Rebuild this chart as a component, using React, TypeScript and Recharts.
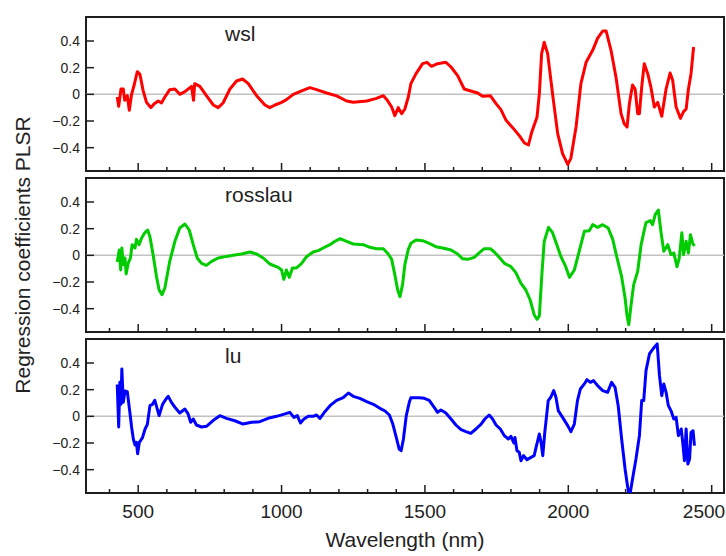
import { LineChart, Line, XAxis, YAxis, ReferenceLine, ReferenceArea } from 'recharts'

// [wavelength (nm), coefficient]
const WSL: [number, number][] = [
  [427, -0.02], [432, -0.09], [440, 0.04], [448, 0.04], [453, -0.045], [462, -0.01], [469, -0.12], [477, 0],
  [486, 0.07], [497, 0.17], [506, 0.15], [517, 0.03], [529, -0.06], [544, -0.1], [556, -0.07], [570, -0.05],
  [581, -0.065], [593, -0.02], [610, 0.035], [628, 0.04], [645, 0], [663, 0.02], [686, 0.06], [693, -0.045],
  [697, 0.08], [715, 0.06], [738, -0.01], [762, -0.08], [779, -0.1], [796, -0.065], [820, 0.04], [843, 0.1],
  [864, 0.115], [884, 0.08], [913, -0.01], [942, -0.08], [959, -0.1], [977, -0.08], [1000, -0.06], [1017, -0.04],
  [1041, 0], [1064, 0.02], [1081, 0.035], [1099, 0.05], [1122, 0.035], [1157, 0.01], [1192, -0.012], [1227, -0.05],
  [1250, -0.06], [1297, -0.05], [1331, -0.03], [1355, -0.01], [1369, -0.045], [1384, -0.095], [1395, -0.16],
  [1407, -0.1], [1419, -0.145], [1430, -0.11], [1442, -0.02], [1451, 0.08], [1469, 0.155], [1492, 0.23],
  [1507, 0.24], [1523, 0.21], [1544, 0.23], [1573, 0.24], [1591, 0.205], [1614, 0.14], [1637, 0.04], [1660, 0.025],
  [1684, 0.01], [1701, -0.015], [1728, -0.01], [1748, -0.07], [1765, -0.115], [1783, -0.195], [1806, -0.25],
  [1829, -0.31], [1847, -0.365], [1861, -0.38], [1873, -0.28], [1891, -0.17], [1899, 0.005], [1907, 0.305],
  [1916, 0.39], [1928, 0.305], [1945, 0.005], [1963, -0.295], [1980, -0.445], [1998, -0.525], [2009, -0.48],
  [2027, -0.245], [2044, 0.08], [2062, 0.24], [2085, 0.33], [2102, 0.42], [2120, 0.475], [2132, 0.475],
  [2149, 0.33], [2167, 0.12], [2184, -0.145], [2195, -0.22], [2205, -0.245], [2213, -0.07], [2224, 0.07],
  [2233, 0.04], [2242, -0.145], [2248, -0.145], [2256, 0.055], [2265, 0.23], [2277, 0.155], [2288, 0.055],
  [2300, -0.095], [2312, -0.06], [2326, -0.165], [2341, 0.04], [2355, 0.16], [2364, 0.105], [2376, -0.095],
  [2391, -0.18], [2402, -0.13], [2411, -0.11], [2419, 0.04], [2428, 0.155], [2437, 0.355],
]

const ROSSLAU: [number, number][] = [
  [427, -0.05], [434, 0.04], [439, -0.11], [443, 0.055], [448, -0.07], [454, -0.02], [458, -0.14], [465, -0.06],
  [473, -0.02], [479, 0.08], [489, 0.055], [494, 0.12], [503, 0.08], [512, 0.13], [523, 0.17], [533, 0.19],
  [541, 0.14], [552, 0.005], [564, -0.16], [573, -0.26], [583, -0.295], [593, -0.245], [610, -0.045], [628, 0.105],
  [645, 0.205], [663, 0.235], [678, 0.19], [692, 0.08], [706, -0.02], [721, -0.06], [738, -0.075], [756, -0.045],
  [779, -0.02], [808, -0.008], [831, 0], [860, 0.01], [890, 0.025], [913, 0.01], [936, -0.02], [959, -0.065],
  [988, -0.09], [1000, -0.11], [1008, -0.18], [1017, -0.11], [1027, -0.165], [1038, -0.095], [1052, -0.095],
  [1070, -0.06], [1087, -0.01], [1110, 0.025], [1128, 0.035], [1145, 0.055], [1169, 0.08], [1186, 0.105],
  [1204, 0.125], [1227, 0.105], [1250, 0.085], [1285, 0.08], [1308, 0.06], [1331, 0.05], [1355, 0.05],
  [1372, 0.01], [1384, -0.03], [1395, -0.145], [1405, -0.26], [1413, -0.31], [1422, -0.22], [1430, -0.07],
  [1442, 0.045], [1451, 0.09], [1469, 0.115], [1492, 0.11], [1515, 0.09], [1538, 0.065], [1562, 0.055],
  [1591, 0.04], [1614, 0.01], [1631, -0.025], [1649, -0.03], [1672, -0.015], [1690, 0.02], [1707, 0.05],
  [1728, 0.05], [1742, 0.025], [1759, -0.015], [1777, -0.06], [1800, -0.085], [1817, -0.13], [1835, -0.21],
  [1852, -0.26], [1867, -0.335], [1881, -0.445], [1891, -0.48], [1899, -0.455], [1907, -0.17], [1916, 0.105],
  [1931, 0.21], [1945, 0.17], [1960, 0.08], [1974, -0.008], [1991, -0.085], [2004, -0.165], [2021, -0.11],
  [2032, -0.02], [2044, 0.08], [2056, 0.18], [2073, 0.185], [2085, 0.23], [2102, 0.21], [2120, 0.23],
  [2139, 0.205], [2155, 0.12], [2170, -0.02], [2186, -0.16], [2198, -0.32], [2205, -0.455], [2211, -0.52],
  [2219, -0.37], [2228, -0.22], [2242, -0.12], [2254, 0.08], [2263, 0.17], [2271, 0.245], [2286, 0.26],
  [2294, 0.23], [2303, 0.305], [2314, 0.34], [2323, 0.18], [2333, 0.03], [2347, 0.08], [2358, 0.005],
  [2368, 0.018], [2379, -0.085], [2387, -0.02], [2396, 0.17], [2402, 0.005], [2411, 0.105], [2419, 0.018],
  [2426, 0.155], [2434, 0.09], [2440, 0.07],
]

const LU: [number, number][] = [
  [427, 0.24], [432, -0.08], [436, 0.255], [440, 0.09], [443, 0.355], [448, 0.105], [454, 0.19], [462, 0.185],
  [471, 0.03], [477, -0.08], [483, -0.17], [489, -0.215], [494, -0.195], [498, -0.28], [504, -0.195], [515, -0.16],
  [524, -0.095], [532, -0.06], [541, 0.08], [550, 0.09], [558, 0.12], [573, 0.005], [585, 0.09], [597, 0.13],
  [605, 0.15], [616, 0.105], [631, 0.06], [645, 0.025], [663, 0.055], [674, 0.018], [683, -0.045], [692, -0.02],
  [703, -0.065], [721, -0.08], [738, -0.075], [762, -0.03], [785, 0.005], [808, -0.015], [837, -0.033],
  [866, -0.058], [895, -0.045], [924, -0.04], [953, -0.015], [983, 0], [1012, 0.018], [1029, 0.03], [1043, -0.008],
  [1055, 0.005], [1066, -0.05], [1078, -0.02], [1093, 0], [1110, 0], [1122, 0.01], [1134, -0.015], [1151, 0.035],
  [1169, 0.08], [1192, 0.12], [1215, 0.14], [1233, 0.175], [1250, 0.15], [1273, 0.135], [1297, 0.11],
  [1320, 0.09], [1343, 0.06], [1361, 0.04], [1376, 0.01], [1388, -0.058], [1400, -0.158], [1410, -0.245],
  [1417, -0.258], [1425, -0.17], [1435, 0.005], [1446, 0.11], [1451, 0.14], [1463, 0.14], [1480, 0.14],
  [1498, 0.135], [1515, 0.12], [1533, 0.065], [1544, 0.03], [1556, 0.048], [1573, 0.025], [1591, -0.02],
  [1608, -0.065], [1626, -0.1], [1643, -0.115], [1660, -0.128], [1678, -0.095], [1696, -0.058], [1709, -0.02],
  [1724, 0.01], [1736, -0.02], [1748, -0.065], [1763, -0.095], [1777, -0.145], [1791, -0.17], [1800, -0.15],
  [1810, -0.2], [1814, -0.158], [1821, -0.258], [1829, -0.27], [1835, -0.333], [1844, -0.295], [1856, -0.325],
  [1870, -0.308], [1881, -0.295], [1889, -0.22], [1899, -0.133], [1905, -0.195], [1911, -0.295], [1918, -0.12],
  [1930, 0.118], [1939, 0.143], [1949, 0.193], [1957, 0.143], [1965, 0.043], [1980, -0.008], [1998, -0.07],
  [2009, -0.115], [2021, -0.058], [2032, 0.118], [2042, 0.205], [2056, 0.243], [2065, 0.275], [2077, 0.255],
  [2088, 0.268], [2102, 0.23], [2120, 0.193], [2137, 0.18], [2151, 0.255], [2163, 0.218], [2174, 0.08],
  [2186, -0.17], [2198, -0.395], [2207, -0.53], [2214, -0.6], [2224, -0.47], [2236, -0.32], [2248, -0.145],
  [2256, 0.118], [2263, 0.118], [2271, 0.343], [2283, 0.468], [2291, 0.493], [2300, 0.518], [2310, 0.543],
  [2318, 0.305], [2326, 0.155], [2333, 0.243], [2341, 0.18], [2349, 0.08], [2358, 0.043], [2368, -0.02],
  [2376, -0.008], [2384, -0.145], [2394, -0.095], [2399, -0.195], [2405, -0.333], [2411, -0.095], [2417, -0.358],
  [2423, -0.32], [2428, -0.12], [2435, -0.108], [2440, -0.22],
]

const MAJOR_TICKS = [500, 1000, 1500, 2000, 2500]
const MINOR_TICKS = [400, 600, 700, 800, 900, 1100, 1200, 1300, 1400, 1600, 1700, 1800, 1900, 2100, 2200, 2300, 2400]
const Y_TICKS = [-0.4, -0.2, 0, 0.2, 0.4]

const X_DOMAIN: [number, number] = [318, 2543]
const Y_DOMAIN: [number, number] = [-0.575, 0.58]

const CHART_W = 726
const FONT = '"Liberation Sans", Arial, Helvetica, sans-serif'
const FRAME = '#1e1e1e'
const TEXT = '#222'

const fmtY = (v: number) => (v === 0 ? '0' : v < 0 ? '\u2212' + Math.abs(v).toFixed(1) : v.toFixed(1))

// short inward tick at the bottom edge of the plot
const xTickShape = (len: number) => (p: any) => {
  const yb = Math.max(p.y1, p.y2)
  return <line x1={p.x1} x2={p.x1} y1={yb} y2={yb - len} stroke={FRAME} strokeWidth={1.5} />
}

// short inward tick at the left edge of the plot
const yTickShape = (p: any) => {
  const xl = Math.min(p.x1, p.x2)
  return <line x1={xl} x2={xl + 8} y1={p.y1} y2={p.y1} stroke={FRAME} strokeWidth={1.5} />
}

// x tick label, centred; the last one is pulled in so it stays inside the picture
function XLabel(p: any) {
  const halfW = 21
  const cx = Math.min(p.x, CHART_W - 1 - halfW)
  return (
    <text x={cx} y={p.y + 25} textAnchor="middle" fontSize={19} fill={TEXT} fontFamily={FONT}>
      {p.payload.value}
    </text>
  )
}

type PanelProps = {
  points: [number, number][]
  color: string
  top: number
  last?: boolean
}

function Panel({ points, color, top, last }: PanelProps) {
  const rows = points.map(([wl, v]) => ({ wl, v }))
  return (
    <div style={{ position: 'absolute', left: 0, top: top - 5 }}>
      <LineChart
        width={CHART_W}
        height={5 + 154 + (last ? 40 : 5)}
        data={rows}
        margin={{ top: 5, right: 2, bottom: last ? 0 : 5, left: 0 }}
      >
        <XAxis
          type="number"
          dataKey="wl"
          domain={X_DOMAIN}
          allowDataOverflow
          hide={!last}
          ticks={MAJOR_TICKS}
          interval={0}
          height={40}
          tickSize={0}
          tickMargin={0}
          tickLine={false}
          axisLine={false}
          tick={(p: any) => <XLabel {...p} />}
        />
        <YAxis
          type="number"
          domain={Y_DOMAIN}
          allowDataOverflow
          ticks={Y_TICKS}
          interval={0}
          width={86}
          tickSize={0}
          tickMargin={6}
          tickLine={false}
          axisLine={false}
          tick={(p: any) => (
            <text x={p.x} y={p.y + 5} textAnchor="end" fontSize={14} fill={TEXT} fontFamily={FONT}>
              {fmtY(p.payload.value)}
            </text>
          )}
        />
        <ReferenceArea
          x1={X_DOMAIN[0]}
          x2={X_DOMAIN[1]}
          y1={Y_DOMAIN[0]}
          y2={Y_DOMAIN[1]}
          fill="none"
          fillOpacity={0}
          stroke={FRAME}
          strokeWidth={2}
        />
        <ReferenceLine y={0} stroke="#c2c2c2" strokeWidth={1.5} />
        {MAJOR_TICKS.map((t) => (
          <ReferenceLine key={'M' + t} x={t} stroke={FRAME} shape={xTickShape(8)} />
        ))}
        {MINOR_TICKS.map((t) => (
          <ReferenceLine key={'m' + t} x={t} stroke={FRAME} shape={xTickShape(4)} />
        ))}
        {Y_TICKS.map((t) => (
          <ReferenceLine key={'y' + t} y={t} stroke={FRAME} shape={yTickShape} />
        ))}
        <Line
          type="linear"
          dataKey="v"
          stroke={color}
          strokeWidth={3}
          strokeLinejoin="round"
          dot={false}
          activeDot={false}
          isAnimationActive={false}
        />
      </LineChart>
    </div>
  )
}

export default function App() {
  return (
    <div style={{ position: 'absolute', left: 0, top: 0, width: 726, height: 556, background: '#fff', fontFamily: FONT }}>
      <Panel points={WSL} color="#ff0000" top={17} />
      <Panel points={ROSSLAU} color="#00cc00" top={178} />
      <Panel points={LU} color="#0000ff" top={339} last />
      <svg width={726} height={556} style={{ position: 'absolute', left: 0, top: 0, pointerEvents: 'none' }}>
        <text x={225} y={41} fontSize={21} fill={TEXT} fontFamily={FONT}>wsl</text>
        <text x={225} y={202} fontSize={21} fill={TEXT} fontFamily={FONT}>rosslau</text>
        <text x={225} y={363} fontSize={21} fill={TEXT} fontFamily={FONT}>lu</text>
        <text x={30} y={255} fontSize={21} fill={TEXT} fontFamily={FONT} textAnchor="middle" transform="rotate(-90, 30, 255)">
          Regression coefficients PLSR
        </text>
        <text x={405} y={547} fontSize={21} fill={TEXT} fontFamily={FONT} textAnchor="middle">
          Wavelength (nm)
        </text>
      </svg>
    </div>
  )
}
